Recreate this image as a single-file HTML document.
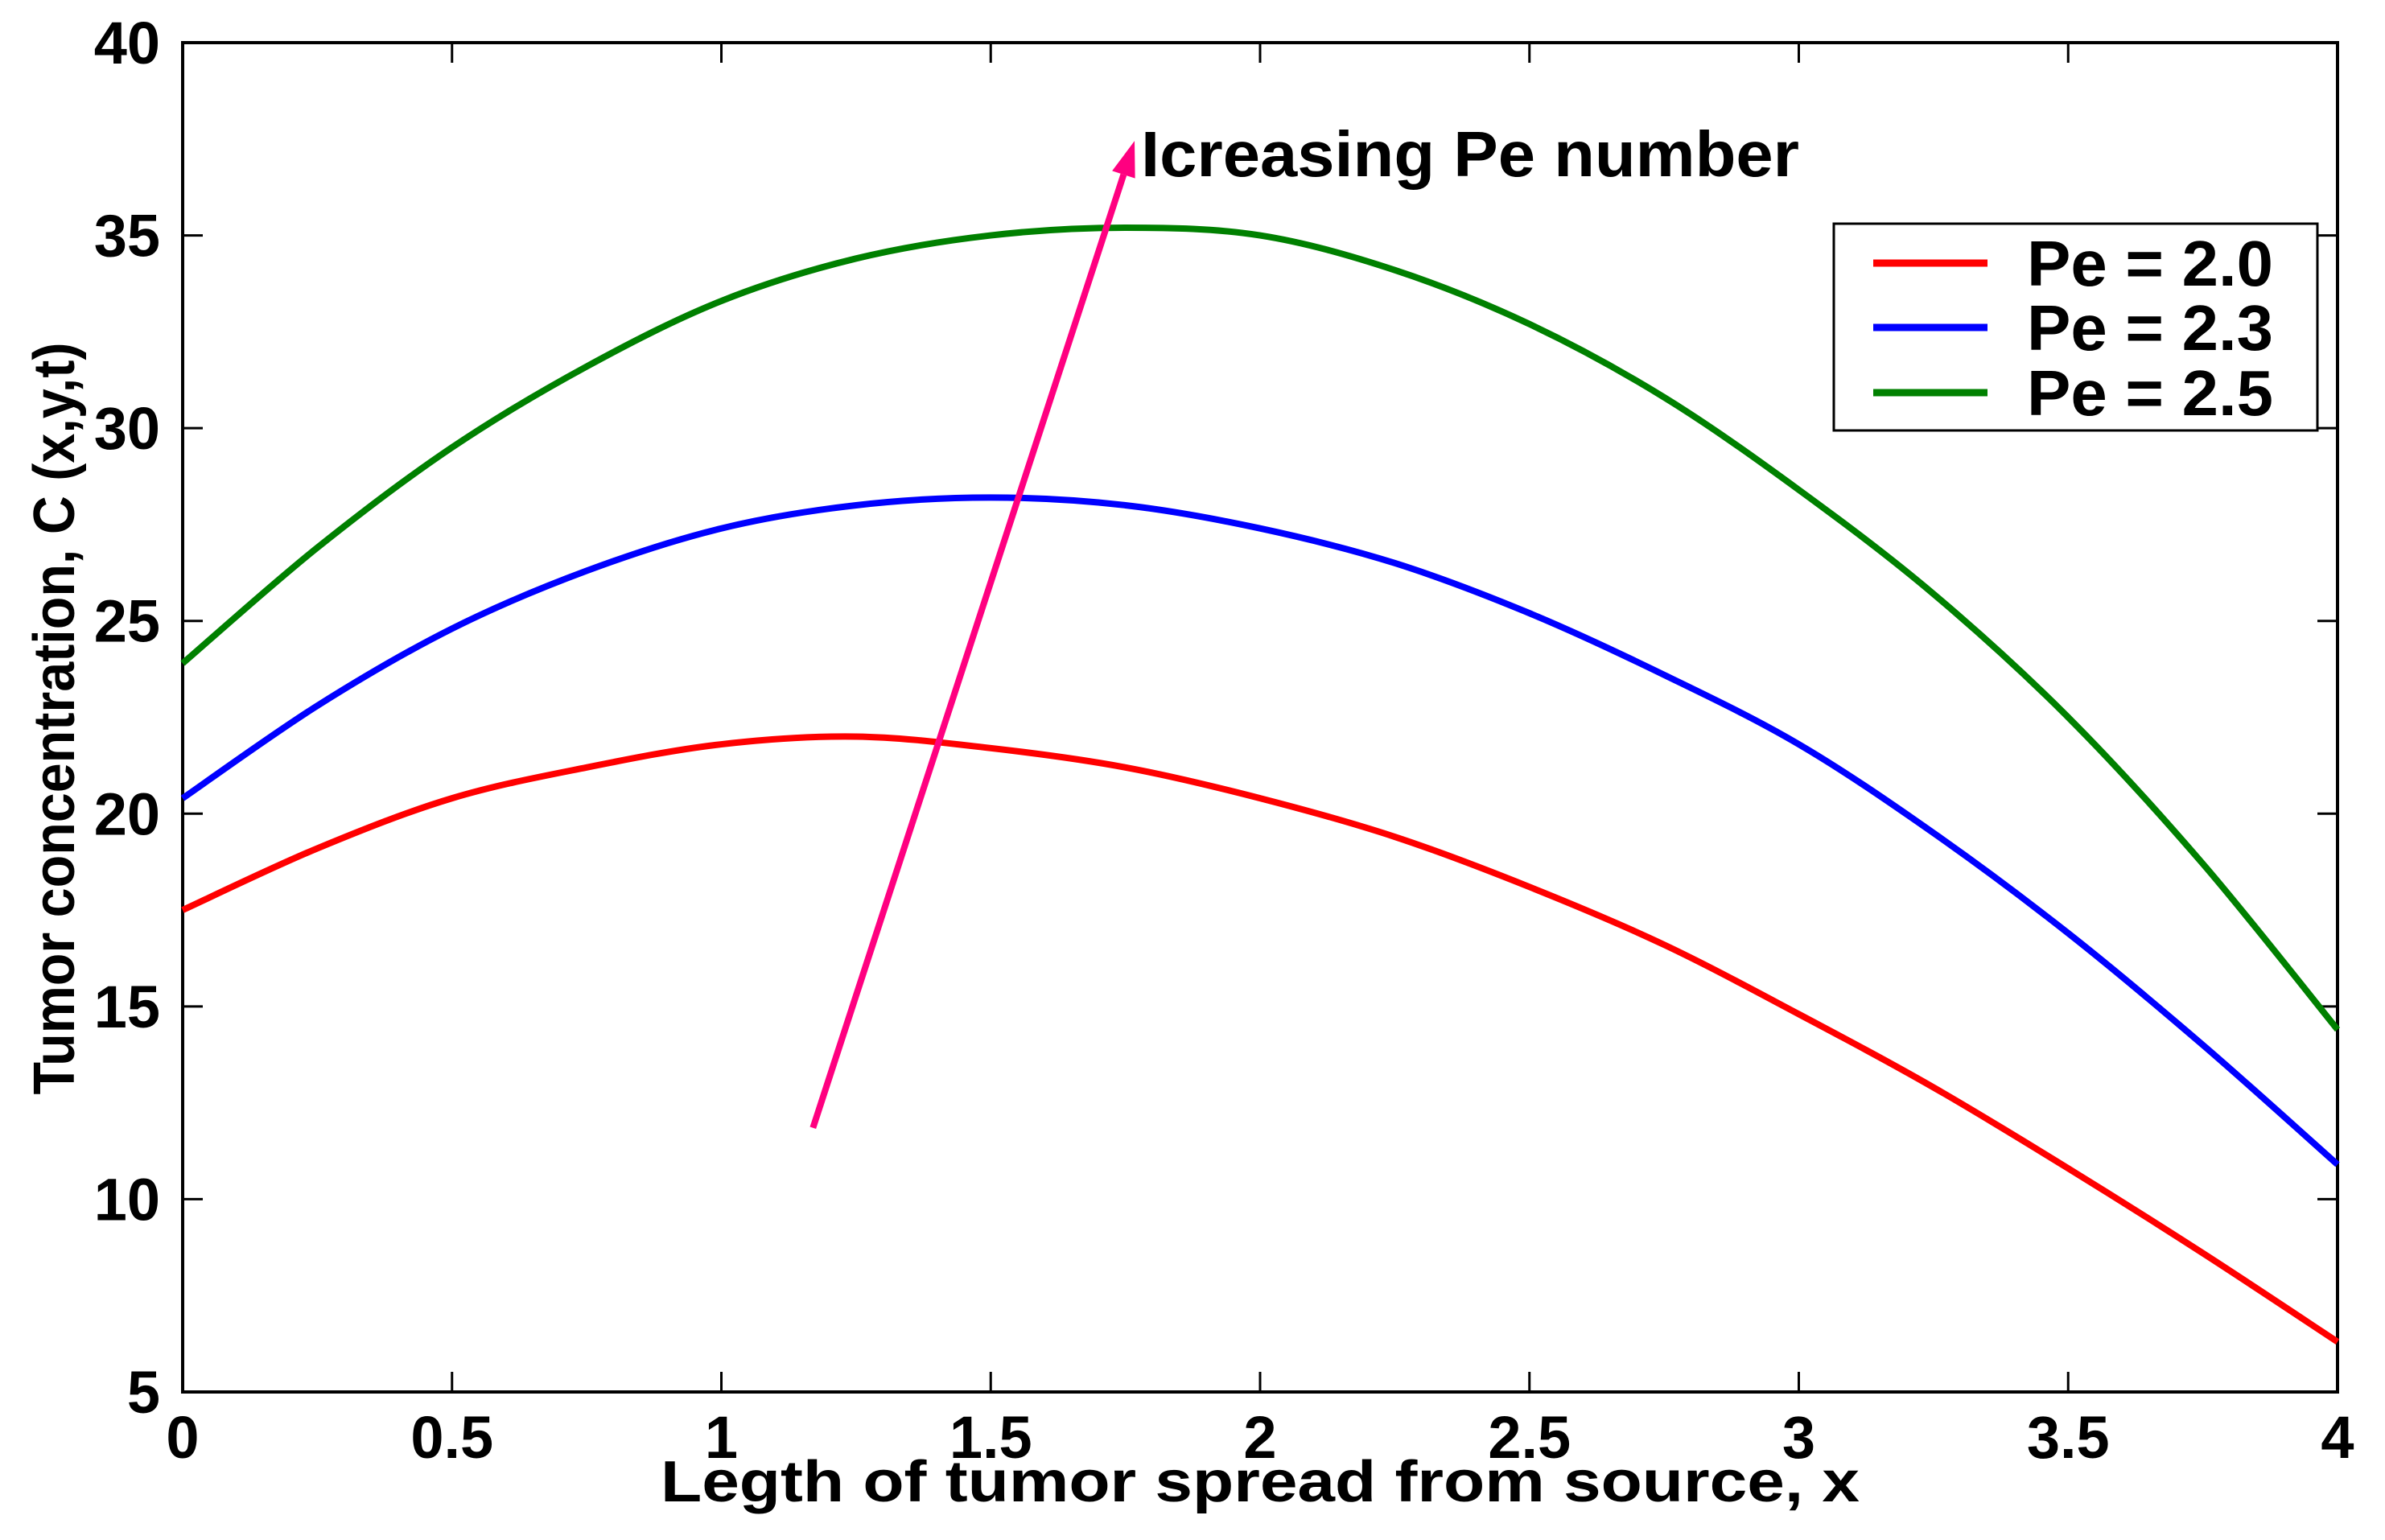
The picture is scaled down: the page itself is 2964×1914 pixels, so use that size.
<!DOCTYPE html>
<html><head><meta charset="utf-8"><style>
html,body{margin:0;padding:0;background:#fff;}
svg{display:block;font-family:"Liberation Sans",Arial,sans-serif;font-weight:bold;}
</style></head><body>
<svg id="chart" width="2964" height="1914" viewBox="0 0 2964 1914" xmlns="http://www.w3.org/2000/svg">
<rect width="2964" height="1914" fill="#fff"/>
<g id="plot"></g>
</svg>
<script>
const xs = [0,0.25,0.5,0.75,1,1.25,1.5,1.75,2,2.25,2.5,2.75,3,3.25,3.5,3.75,4];
const pe20 = [17.5,19.1,20.4,21.2,21.8,22.0,21.7,21.2,20.4,19.4,18.1,16.6,14.8,12.9,10.8,8.6,6.3];
const pe23 = [20.4,22.8,24.8,26.3,27.4,28.0,28.2,28.0,27.4,26.5,25.2,23.6,21.8,19.5,16.9,14.0,10.9];
const pe25 = [23.9,26.9,29.5,31.6,33.3,34.4,35.0,35.2,35.0,34.1,32.7,30.8,28.4,25.7,22.5,18.7,14.4];
const seriesNames = ["Pe = 2.0","Pe = 2.3","Pe = 2.5"];
const xTicks = [0,0.5,1,1.5,2,2.5,3,3.5,4];
const xTickLabels = ["0","0.5","1","1.5","2","2.5","3","3.5","4"];
const yTicks = [5,10,15,20,25,30,35,40];
const yTickLabels = ["5","10","15","20","25","30","35","40"];
const arrowStart = [1.17,11.85];
const arrowEnd = [1.767,37.45];

const L=227,R=2905,T=53,B=1730;
const X0=0,X1=4,Y0=5,Y1=40;
const sx=v=>L+(v-X0)/(X1-X0)*(R-L);
const sy=v=>B-(v-Y0)/(Y1-Y0)*(B-T);
const NS="http://www.w3.org/2000/svg";
const g=document.getElementById('plot');
function mk(tag,attrs,parent){const e=document.createElementNS(NS,tag);for(const k in attrs)e.setAttribute(k,attrs[k]);(parent||g).appendChild(e);return e;}

const box=mk('rect',{x:L,y:T,width:R-L,height:B-T,fill:'none',stroke:'#000','stroke-width':4});



xTicks.forEach((v,i)=>{
  const x=sx(v);
  const t1=mk('line',{x1:x,y1:B,x2:x,y2:B-25,stroke:'#000','stroke-width':3});
  
  
  const t2=mk('line',{x1:x,y1:T,x2:x,y2:T+25,stroke:'#000','stroke-width':3});
  
  
  const tx=mk('text',{x:x,y:B+82,'font-size':74,'text-anchor':'middle',fill:'#000'});
  tx.textContent=xTickLabels[i];
  
  
});
yTicks.forEach((v,i)=>{
  const y=sy(v);
  const t1=mk('line',{x1:L,y1:y,x2:L+25,y2:y,stroke:'#000','stroke-width':3});
  
  
  const t2=mk('line',{x1:R,y1:y,x2:R-25,y2:y,stroke:'#000','stroke-width':3});
  
  
  const tx=mk('text',{x:L-28,y:y+26,'font-size':74,'text-anchor':'end',fill:'#000'});
  tx.textContent=yTickLabels[i];
  
  
});

const colors=['#ff0000','#0000ff','#008000'];
[pe20,pe23,pe25].forEach((ys,si)=>{
  const p=xs.map((x,i)=>[sx(x),sy(ys[i])]);
  let d='M'+p[0][0]+','+p[0][1];
  for(let i=0;i<p.length-1;i++){
    const p0=p[Math.max(0,i-1)],p1=p[i],p2=p[i+1],p3=p[Math.min(p.length-1,i+2)];
    const c1=[p1[0]+(p2[0]-p0[0])/6,p1[1]+(p2[1]-p0[1])/6];
    const c2=[p2[0]-(p3[0]-p1[0])/6,p2[1]-(p3[1]-p1[1])/6];
    d+=' C'+c1[0]+','+c1[1]+' '+c2[0]+','+c2[1]+' '+p2[0]+','+p2[1];
  }
  const path=mk('path',{d:d,fill:'none',stroke:colors[si],'stroke-width':8,'stroke-linejoin':'round'});
  
  
});

const ax1=sx(arrowStart[0]),ay1=sy(arrowStart[1]),ax2=sx(arrowEnd[0]),ay2=sy(arrowEnd[1]);
const ang=Math.atan2(ay2-ay1,ax2-ax1);
const hl=44,hw=15;
const bx=ax2-hl*Math.cos(ang),by=ay2-hl*Math.sin(ang);
const arrLine=mk('line',{x1:ax1,y1:ay1,x2:bx,y2:by,stroke:'#ff0080','stroke-width':8});


const head=mk('polygon',{points:`${ax2},${ay2} ${bx+hw*Math.sin(ang)},${by-hw*Math.cos(ang)} ${bx-hw*Math.sin(ang)},${by+hw*Math.cos(ang)}`,fill:'#ff0080'});


const ann=mk('text',{x:ax2+8,y:219,'font-size':80,fill:'#000',textLength:818,lengthAdjust:'spacingAndGlyphs'});
ann.textContent='Icreasing Pe number';



const xt=mk('text',{x:(L+R)/2,y:1866,'font-size':72,'text-anchor':'middle',fill:'#000',textLength:1490,lengthAdjust:'spacingAndGlyphs'});
xt.textContent='Legth of tumor spread from source, x';


const yt=mk('text',{x:0,y:0,'font-size':72,'text-anchor':'middle',fill:'#000',transform:'translate(92,893) rotate(-90)',textLength:935,lengthAdjust:'spacingAndGlyphs'});
yt.textContent='Tumor concentration, C (x,y,t)';



const lg=mk('g',{});


const lb=mk('rect',{x:2279,y:278,width:601,height:257,fill:'#fff',stroke:'#000','stroke-width':3},lg);


const rows=[327,407,488];
seriesNames.forEach((n,i)=>{
  const ln=mk('line',{x1:2328,y1:rows[i],x2:2470,y2:rows[i],stroke:colors[i],'stroke-width':9},lg);
  
  
  const tx=mk('text',{x:2519,y:rows[i]+28,'font-size':80,fill:'#000',textLength:306,lengthAdjust:'spacingAndGlyphs'},lg);
  tx.textContent=n;
  
  
});
</script>
</body></html>
